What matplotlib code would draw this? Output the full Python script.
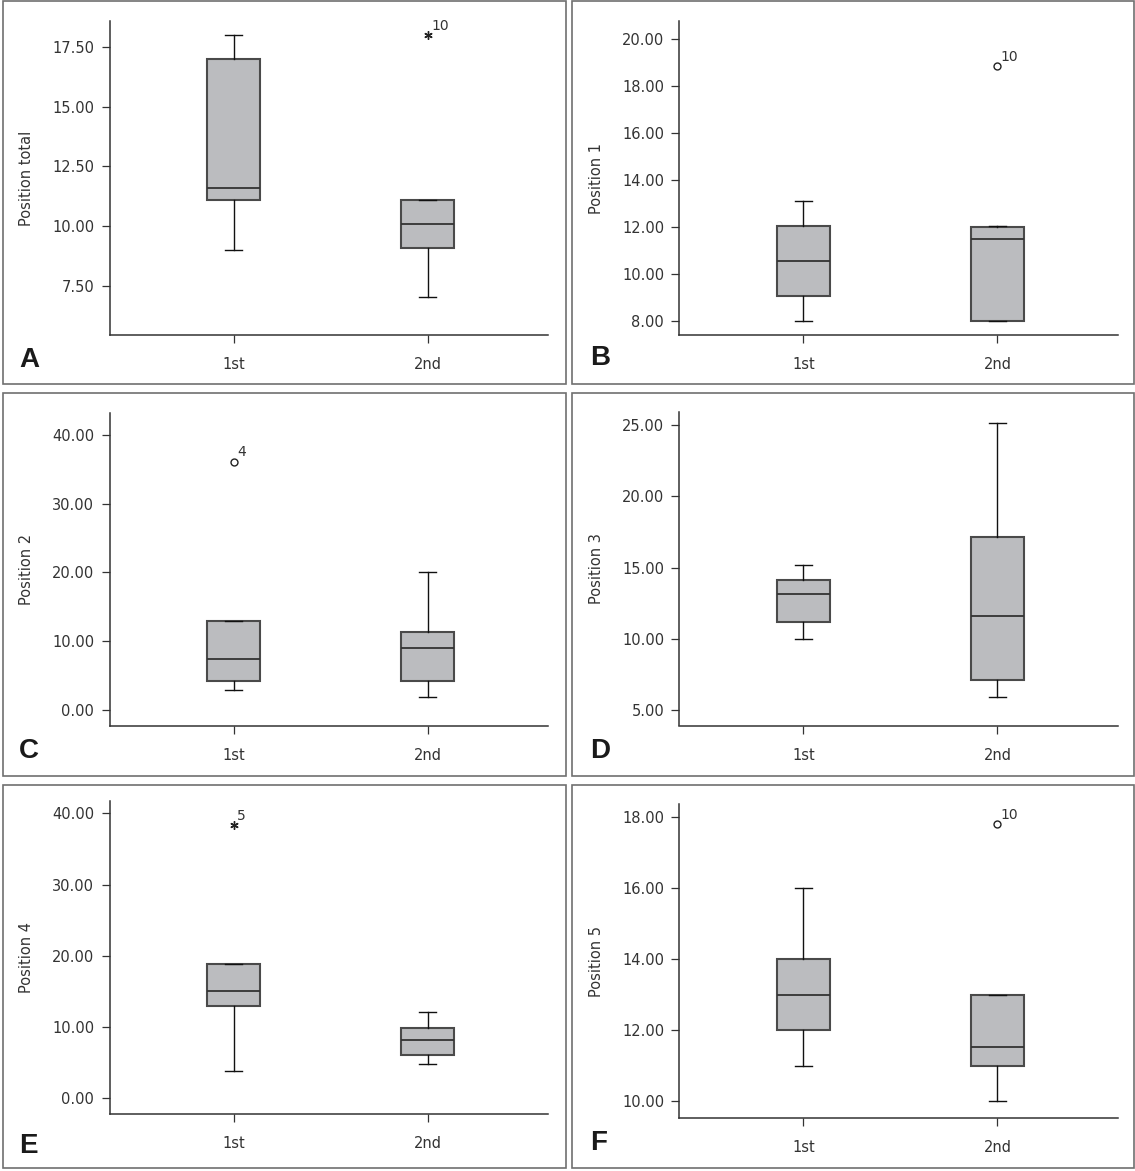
import matplotlib
matplotlib.use("Agg")
import matplotlib.pyplot as plt
from matplotlib.patches import Rectangle

W, H = 1135, 1171

groups = ["1st", "2nd"]
panel_letters = ["A", "B", "C", "D", "E", "F"]
ylabels = ["Position total", "Position 1", "Position 2", "Position 3", "Position 4", "Position 5"]

# box statistics per panel: [whislo, q1, median, q3, whishi] for 1st and 2nd
a_first = [9.0, 11.07, 11.58, 17.0, 18.0]
a_second = [7.05, 9.08, 10.07, 11.1, 11.1]
b_first = [8.0, 9.05, 10.57, 12.05, 13.1]
b_second = [8.0, 8.0, 11.5, 12.0, 12.03]
c_first = [2.9, 4.3, 7.5, 13.0, 13.0]
c_second = [1.9, 4.3, 9.1, 11.4, 20.0]
d_first = [10.0, 11.15, 13.17, 14.12, 15.15]
d_second = [5.93, 7.09, 11.6, 17.15, 25.15]
e_first = [3.8, 12.9, 15.0, 18.9, 18.9]
e_second = [4.88, 6.1, 8.15, 9.9, 12.1]
f_first = [11.0, 12.0, 13.0, 14.0, 16.0]
f_second = [10.02, 11.0, 11.52, 13.0, 13.0]

# outliers: (group index, value, case label)
a_outliers = [(1, 18.0, "10")]
b_outliers = [(1, 18.86, "10")]
c_outliers = [(0, 36.1, "4")]
d_outliers = []
e_outliers = [(0, 38.3, "5")]
f_outliers = [(1, 17.8, "10")]
outlier_kind = ["extreme", "mild", "mild", "mild", "extreme", "mild"]

# y-axis ticks
a_ticks = [7.5, 10.0, 12.5, 15.0, 17.5]
b_ticks = [8, 10, 12, 14, 16, 18, 20]
c_ticks = [0, 10, 20, 30, 40]
d_ticks = [5, 10, 15, 20, 25]
e_ticks = [0, 10, 20, 30, 40]
f_ticks = [10, 12, 14, 16, 18]

panels = [
    (a_first, a_second, a_outliers, a_ticks, (5.44, 18.58)),
    (b_first, b_second, b_outliers, b_ticks, (7.41, 20.78)),
    (c_first, c_second, c_outliers, c_ticks, (-2.21, 43.22)),
    (d_first, d_second, d_outliers, d_ticks, (3.91, 25.88)),
    (e_first, e_second, e_outliers, e_ticks, (-2.19, 41.77)),
    (f_first, f_second, f_outliers, f_ticks, (9.53, 18.35)),
]

# layout in pixels
col_x = [(109.5, 548.0), (679.4, 1117.6)]
axes_y = [(21.0, 335.0), (21.0, 335.0), (412.5, 725.5), (412.5, 725.5), (800.6, 1114.0), (804.2, 1118.0)]
frames_x = [(3, 566), (572, 1133.5)]
frames_y = [(1.5, 384), (393, 776), (785, 1168)]
letter_pos = [(19, 367), (590, 365), (19, 758), (590, 758), (19, 1153), (590, 1150)]

TEXT = "#333333"
plt.rcParams["font.family"] = ["DejaVu Sans"]

fig = plt.figure(figsize=(W / 100, H / 100), dpi=100)

# panel frames
for r, (fy0, fy1) in enumerate(frames_y):
    for c, (fx0, fx1) in enumerate(frames_x):
        fig.patches.append(Rectangle((fx0 / W, 1 - fy1 / H), (fx1 - fx0) / W, (fy1 - fy0) / H,
                                     transform=fig.transFigure, fill=False,
                                     edgecolor="#707070", linewidth=1.2))

for i, (first, second, outs, ticks, ylim) in enumerate(panels):
    x0, x1 = col_x[i % 2]
    y0, y1 = axes_y[i]
    ax = fig.add_axes([x0 / W, 1 - y1 / H, (x1 - x0) / W, (y1 - y0) / H])
    stats = []
    for g, s in enumerate([first, second]):
        fl = [v for (gi, v, lab) in outs if gi == g]
        stats.append(dict(whislo=s[0], q1=s[1], med=s[2], q3=s[3], whishi=s[4], fliers=fl))
    if outlier_kind[i] == "extreme":
        fprops = dict(marker=(6, 2, 0), markersize=6, markeredgecolor="#222222", markeredgewidth=1.0,
                      linestyle="none")
    else:
        fprops = dict(marker="o", markersize=5, markerfacecolor="white", markeredgecolor="#222222",
                      markeredgewidth=1.0, linestyle="none")
    ax.bxp(stats, positions=[1, 2], widths=0.275, capwidths=0.09, patch_artist=True,
           showfliers=True,
           boxprops=dict(facecolor="#bbbcbf", edgecolor="#4a4a4a", linewidth=1.5),
           medianprops=dict(color="#333333", linewidth=1.3),
           whiskerprops=dict(color="#111111", linewidth=1.0),
           capprops=dict(color="#111111", linewidth=1.0),
           flierprops=fprops)
    for (gi, v, lab) in outs:
        ax.annotate(lab, xy=(gi + 1, v), xytext=(2.5, 1.5), textcoords="offset points",
                    ha="left", va="bottom", fontsize=10, color=TEXT)
    ax.set_xlim(0.36, 2.62)
    ax.set_ylim(*ylim)
    ax.set_yticks(ticks)
    ax.set_yticklabels([f"{t:.2f}" for t in ticks])
    ax.set_xticks([1, 2])
    ax.set_xticklabels(groups)
    for sp in ["top", "right"]:
        ax.spines[sp].set_visible(False)
    for sp in ["left", "bottom"]:
        ax.spines[sp].set_color("#333333")
        ax.spines[sp].set_linewidth(1.1)
    ax.tick_params(axis="y", length=6, width=0.9, pad=5, labelsize=10.5, colors=TEXT)
    ax.tick_params(axis="x", length=6, width=0.9, pad=10, labelsize=10.5, colors=TEXT)
    ax.set_facecolor("none")
    ax.set_ylabel(ylabels[i], fontsize=10.5, color=TEXT)
    ax.yaxis.set_label_coords((34 - 109.5) / 438.5, 0.5)
    lx, ly = letter_pos[i]
    fig.text(lx / W, 1 - ly / H, panel_letters[i], ha="left", va="baseline",
             fontsize=20, fontweight="bold", family="Liberation Sans", color="#1a1a1a")

fig.savefig("out.png", dpi=100)
